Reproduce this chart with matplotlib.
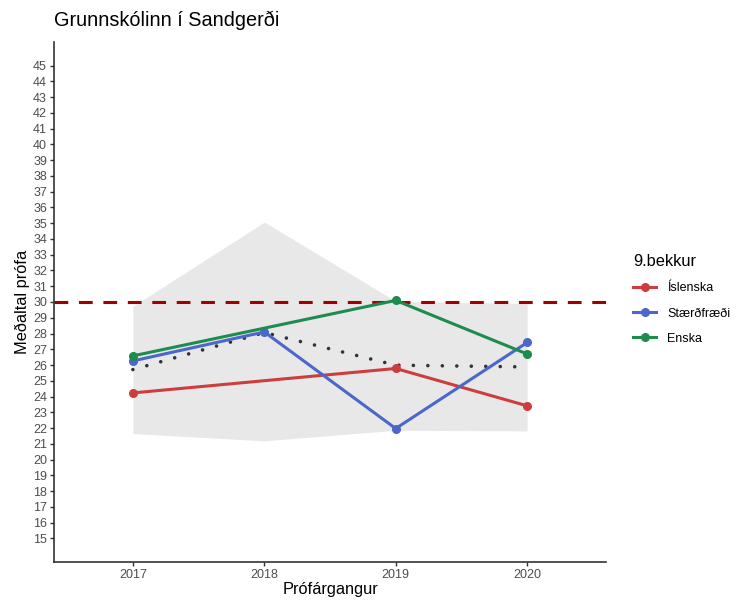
import matplotlib.pyplot as plt
import matplotlib.lines as mlines
import numpy as np

plt.rcParams['font.family'] = ['Liberation Sans', 'DejaVu Sans']

years = ['2017', '2018', '2019', '2020']
islenska = [24.23, np.nan, 25.78, 23.41]
staerdfraedi = [26.26, 28.1, 21.97, 27.43]
enska = [26.58, np.nan, 30.1, 26.7]
landsmedaltal = [25.71, 28.06, 25.99, 25.88]
band_high = [29.73, 35.07, 30.05, 29.9]
band_low = [21.65, 21.19, 21.86, 21.82]
target = 30
y_ticks = list(range(15, 46))

series = [('Íslenska', islenska, '#CC3D3D'),
          ('Stærðfræði', staerdfraedi, '#4A67C9'),
          ('Enska', enska, '#1E8C4E')]

fig = plt.figure(figsize=(7.36, 6.03), dpi=100)
ax = fig.add_axes([54/736, 1 - 562/603, (606 - 54)/736, (562 - 42)/603])

x = np.arange(len(years))
ax.fill_between(x, band_low, band_high, color='#E8E8E8', linewidth=0, zorder=1)
ax.axhline(target, color='#A00000', linestyle=(0, (4.5, 3.5)), linewidth=2.2, zorder=2)
ax.plot(x, landsmedaltal, color='#333333', linestyle=(0, (0.01, 4.0)), linewidth=2.6,
        dash_capstyle='round', zorder=3)

handles = []
for name, vals, col in series:
    v = np.array(vals, dtype=float)
    ok = ~np.isnan(v)
    ax.plot(x[ok], v[ok], color=col, linewidth=2.2, marker='o', markersize=5.5, zorder=4)
    handles.append(mlines.Line2D([], [], color=col, linewidth=2.2, marker='o',
                                 markersize=5.5, label=name))

ax.set_xlim(-0.6, len(years) - 1 + 0.6)
ax.set_ylim(13.5, 46.5)
ax.set_xticks(x)
ax.set_xticklabels(years)
ax.set_yticks(y_ticks)
ax.tick_params(axis='both', colors='#333333', labelsize=9, length=3, width=1, pad=2)
for lab in ax.get_xticklabels() + ax.get_yticklabels():
    lab.set_color('#4D4D4D')
ax.spines['top'].set_visible(False)
ax.spines['right'].set_visible(False)
for s in ['left', 'bottom']:
    ax.spines[s].set_color('#333333')
    ax.spines[s].set_linewidth(1.2)

ax.set_xlabel('Prófárgangur', fontsize=11.8, labelpad=1)
ax.set_ylabel('Meðaltal prófa', fontsize=11.8, labelpad=2)
fig.text(54/736, 1 - 20/603, 'Grunnskólinn í Sandgerði', fontsize=14.3,
         ha='left', va='center')

leg = fig.legend(handles=handles, title='9.bekkur', loc='upper left',
                 bbox_to_anchor=(622/736, 1 - 243/603), frameon=False,
                 fontsize=9, title_fontsize=11.8, handlelength=1.8,
                 handletextpad=0.9, labelspacing=1.05, alignment='left')

fig.savefig('out.png', dpi=100)
